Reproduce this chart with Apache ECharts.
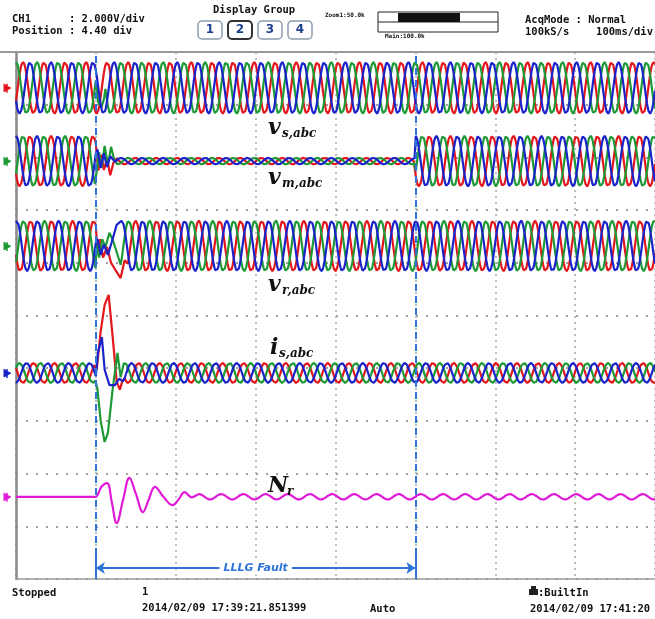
<!DOCTYPE html>
<html>
<head>
<meta charset="utf-8">
<script src="https://cdn.jsdelivr.net/npm/echarts@6/dist/echarts.min.js"></script>
<style>
  html, body { margin: 0; padding: 0; background: #fff; }
  #chart { width: 655px; height: 619px; }
</style>
</head>
<body>
<div id="chart"></div>
<script>
// time in ms (100 ms/div), vertical position in divisions (0 = bottom)
const timeRange = [0, 800];
const divRange = [0, 10];
const faultWindow = [100, 500];
const lineFreqHz = 38;
const nrRippleHz = 36;

// trace centres (div)
const vsCenter = 9.32;
const vmCenter = 7.93;
const vrCenter = 6.32;
const isCenter = 3.91;
const nrCenter = 1.56;

// amplitude per time span: [from ms, to ms, amplitude div]
const vsAmp = [[0, 800, 0.49]];
const vmAmp = [[0, 100, 0.48], [100, 500, 0.06], [500, 800, 0.48]];
const vrAmp = [[0, 800, 0.48]];
const isAmp = [[0, 800, 0.19]];
const nrAmp = [[0, 100, 0], [100, 800, 0.05]];

// phase at t = 0 (deg) for phases a (red), b (green), c (blue)
const vsPhase = [-30, 90, 210];
const vmPhase = [210, -30, 90];
const vrPhase = [200, -40, 80];
const isPhase = [150, 30, -90];

// fault transients: [ms, div]
const vsTrans = [
  null,
  { from: 100, to: 112, pts: [[103, 9.05], [107, 8.95], [110, 9.1]] },
  null
];
const vmTrans = [
  { from: 100, to: 126, pts: [[103, 7.75], [107, 8.05], [110, 7.76], [114, 7.98], [118, 7.66], [122, 7.9]] },
  { from: 100, to: 127, pts: [[101, 7.53], [104, 8.1], [107, 7.8], [111, 8.22], [115, 7.85], [119, 8.2], [123, 7.95]] },
  { from: 100, to: 124, pts: [[102, 8.15], [106, 7.8], [110, 8.08], [114, 7.82], [118, 8.02]] }
];
const vrTrans = [
  { from: 100, to: 140, pts: [[102, 6.2], [105, 6.45], [109, 6.1], [114, 6.3], [119, 6.0], [125, 5.85], [131, 5.71], [136, 6.05]] },
  { from: 100, to: 131, pts: [[101, 6.35], [104, 6.1], [108, 6.45], [112, 6.3], [117, 6.57], [122, 6.4]] },
  { from: 100, to: 132, pts: [[102, 6.45], [106, 6.15], [110, 6.35], [115, 6.15], [120, 6.4], [126, 6.72]] }
];
const isTrans = [
  { from: 100, to: 136, pts: [[101, 3.97], [106, 4.7], [111, 5.2], [116, 5.39], [121, 4.6], [126, 3.75], [130, 3.59], [133, 3.75]] },
  { from: 100, to: 135, pts: [[102, 3.6], [106, 3.0], [111, 2.6], [115, 2.77], [121, 3.6], [127, 4.29], [131, 3.83]] },
  { from: 100, to: 134, pts: [[102.5, 4.29], [107.5, 4.59], [111, 3.97], [117, 3.68], [124, 3.68], [129, 3.8]] }
];
const nrTrans = {
  from: 100, to: 230,
  pts: [[107, 1.75], [114, 1.82], [120, 1.45], [126, 1.06], [134, 1.5], [142, 1.92], [150, 1.62], [159, 1.27],
        [166, 1.5], [174, 1.75], [185, 1.55], [196, 1.40], [204, 1.52], [211, 1.65], [220, 1.55]]
};

const phaseColors = ['#e3161c', '#1d9a36', '#1a22c9'];
const nrColor = '#e01ad8';
const faultColor = '#2f73d9';

function buildTrace(center, ampSegs, freq, phaseDeg, trans) {
  const data = [];
  let inserted = false;
  for (let i = 0; i <= 1600; i++) {
    const t = i * 0.5;
    if (trans && t > trans.from && t < trans.to) {
      if (!inserted) {
        trans.pts.forEach((p) => data.push(p));
        inserted = true;
      }
      continue;
    }
    const seg = ampSegs.find((s) => t >= s[0] && t <= s[1]);
    const v = center + seg[2] * Math.sin(2 * Math.PI * freq * t / 1000 + phaseDeg * Math.PI / 180);
    data.push([t, v]);
  }
  return data;
}

function lineSeries(name, data, color, smooth) {
  return {
    name: name,
    type: 'line',
    data: data,
    showSymbol: false,
    smooth: smooth || false,
    animation: false,
    silent: true,
    lineStyle: { color: color, width: 2.2 },
    z: 3
  };
}

const series = [];
[0, 1, 2].forEach((k) => {
  series.push(lineSeries('vs' + k, buildTrace(vsCenter, vsAmp, lineFreqHz, vsPhase[k], vsTrans[k]), phaseColors[k]));
  series.push(lineSeries('vm' + k, buildTrace(vmCenter, vmAmp, lineFreqHz, vmPhase[k], vmTrans[k]), phaseColors[k]));
  series.push(lineSeries('vr' + k, buildTrace(vrCenter, vrAmp, lineFreqHz, vrPhase[k], vrTrans[k]), phaseColors[k]));
  series.push(lineSeries('is' + k, buildTrace(isCenter, isAmp, lineFreqHz, isPhase[k], isTrans[k]), phaseColors[k]));
});
series.push(lineSeries('Nr', buildTrace(nrCenter, nrAmp, nrRippleHz, 0, nrTrans), nrColor, 0.4));

// fault markers
series.push({
  name: 'fault',
  type: 'line',
  data: [],
  animation: false,
  markLine: {
    silent: true,
    animation: false,
    symbolSize: [9, 9],
    label: { show: false },
    data: [
      [
        { coord: [faultWindow[0], divRange[0]], symbol: 'none', lineStyle: { color: faultColor, width: 2, type: [7, 5] } },
        { coord: [faultWindow[0], divRange[1]], symbol: 'none' }
      ],
      [
        { coord: [faultWindow[1], divRange[0]], symbol: 'none', lineStyle: { color: faultColor, width: 2, type: [7, 5] } },
        { coord: [faultWindow[1], divRange[1]], symbol: 'none' }
      ],
      [
        { coord: [faultWindow[0], 0], symbol: 'none', lineStyle: { color: faultColor, width: 2, type: 'solid' } },
        { coord: [faultWindow[0], 0.48], symbol: 'none' }
      ],
      [
        { coord: [faultWindow[1], 0], symbol: 'none', lineStyle: { color: faultColor, width: 2, type: 'solid' } },
        { coord: [faultWindow[1], 0.48], symbol: 'none' }
      ],
      [
        {
          coord: [faultWindow[0], 0.21], symbol: 'arrow',
          lineStyle: { color: faultColor, width: 2, type: 'solid' },
          label: {
            show: true, position: 'insideMiddle', formatter: 'LLLG Fault',
            color: faultColor, fontStyle: 'italic', fontWeight: 'bold', fontSize: 11,
            fontFamily: 'DejaVu Sans', backgroundColor: '#fff', padding: [1, 4]
          }
        },
        { coord: [faultWindow[1], 0.21], symbol: 'arrow' }
      ]
    ]
  },
  z: 4
});

const monoFont = 'bold 10.5px "DejaVu Sans Mono"';
function txt(text, x, y, font, fill, align) {
  return {
    type: 'text', silent: true, z: 10,
    style: { text: text, x: x, y: y, font: font || monoFont, fill: fill || '#111', align: align || 'left', verticalAlign: 'middle' }
  };
}
function boxNum(n, x, dark) {
  return [
    {
      type: 'rect', silent: true, z: 10,
      shape: { x: x, y: 21, width: 24, height: 18, r: 4 },
      style: { fill: '#fff', stroke: dark ? '#333' : '#8c9bb0', lineWidth: dark ? 2 : 1.5 }
    },
    txt(String(n), x + 12, 30, 'bold 12px "DejaVu Sans"', '#1d3f8f', 'center')
  ];
}

const serifBI = '"DejaVu Serif"';
function traceLabel(main, sub, x, y, subDx) {
  return [
    txt(main, x, y, 'italic bold 22px ' + serifBI, '#111'),
    txt(sub, x + subDx, y + 6, 'italic bold 12px ' + serifBI, '#111')
  ];
}

const graphic = [
  { type: 'line', silent: true, z: 9, shape: { x1: 0, y1: 52, x2: 655, y2: 52 }, style: { stroke: '#9a9a9a', lineWidth: 2 } },
  txt('CH1      : 2.000V/div', 12, 19),
  txt('Position : 4.40 div', 12, 31),
  txt('Display Group', 213, 10),
  ...boxNum(1, 198, false),
  ...boxNum(2, 228, true),
  ...boxNum(3, 258, false),
  ...boxNum(4, 288, false),
  txt('Zoom1:50.0k', 325, 15, 'bold 6px "DejaVu Sans Mono"'),
  { type: 'rect', silent: true, z: 10, shape: { x: 378, y: 12, width: 120, height: 20 }, style: { fill: '#fff', stroke: '#222', lineWidth: 1 } },
  { type: 'line', silent: true, z: 10, shape: { x1: 378, y1: 22, x2: 498, y2: 22 }, style: { stroke: '#222', lineWidth: 1 } },
  { type: 'rect', silent: true, z: 11, shape: { x: 398, y: 13, width: 62, height: 9 }, style: { fill: '#111' } },
  txt('Main:100.0k', 385, 36, 'bold 6px "DejaVu Sans Mono"'),
  txt('AcqMode : Normal', 525, 20),
  txt('100kS/s', 525, 32),
  txt('100ms/div', 653, 32, monoFont, '#111', 'right'),
  txt('Stopped', 12, 593),
  txt('1', 142, 592),
  txt('2014/02/09 17:39:21.851399', 142, 608),
  txt('Auto', 370, 609),
  { type: 'rect', silent: true, z: 10, shape: { x: 529, y: 589, width: 9, height: 6 }, style: { fill: '#222' } },
  { type: 'rect', silent: true, z: 10, shape: { x: 531, y: 586, width: 5, height: 3 }, style: { fill: '#222' } },
  txt(':BuiltIn', 538, 593),
  txt('2014/02/09 17:41:20', 530, 609),
  ...traceLabel('v', 's,abc', 268, 128, 14),
  ...traceLabel('v', 'm,abc', 268, 178, 14),
  ...traceLabel('v', 'r,abc', 268, 285, 14),
  ...traceLabel('i', 's,abc', 270, 348, 9),
  ...traceLabel('N', 'r', 268, 486, 19)
];

const chart = echarts.init(document.getElementById('chart'), null, { renderer: 'canvas' });
chart.setOption({
  animation: false,
  backgroundColor: '#fff',
  grid: { left: 16, top: 52, width: 640, height: 527 },
  xAxis: {
    type: 'value', min: timeRange[0], max: timeRange[1], interval: 100,
    axisLine: { show: true, onZero: false, lineStyle: { color: '#9a9a9a', width: 1.5 } },
    axisTick: { show: false }, axisLabel: { show: false },
    splitLine: { show: true, lineStyle: { color: '#a8a8a8', width: 1.5, type: [2, 4] } }
  },
  yAxis: {
    type: 'value', min: divRange[0], max: divRange[1], interval: 1,
    axisLine: { show: true, onZero: false, lineStyle: { color: '#8a8a8a', width: 2.5 } },
    axisTick: { show: false }, axisLabel: { show: false },
    splitLine: { show: true, lineStyle: { color: '#a0a0a0', width: 2, type: [2, 8] } }
  },
  series: series,
  graphic: graphic
});

// channel ground markers on the left edge, placed through the y axis
const markerChannels = [[vsCenter, '#e3161c'], [vmCenter, '#1d9a36'], [vrCenter, '#1d9a36'], [isCenter, '#1a22c9'], [nrCenter, nrColor]];
const markers = [];
markerChannels.forEach((m) => {
  const y = chart.convertToPixel({ gridIndex: 0 }, [0, m[0]])[1];
  markers.push({
    type: 'polyline', silent: true, z: 12,
    shape: { points: [[4, y - 4], [4, y + 4], [11, y]] },
    style: { fill: m[1], stroke: m[1], lineWidth: 1 }
  });
  markers.push({
    type: 'line', silent: true, z: 12,
    shape: { x1: 7, y1: y - 4, x2: 7, y2: y + 5 },
    style: { stroke: m[1], lineWidth: 1.5 }
  });
});
chart.setOption({ graphic: graphic.concat(markers) });
</script>
</body>
</html>
